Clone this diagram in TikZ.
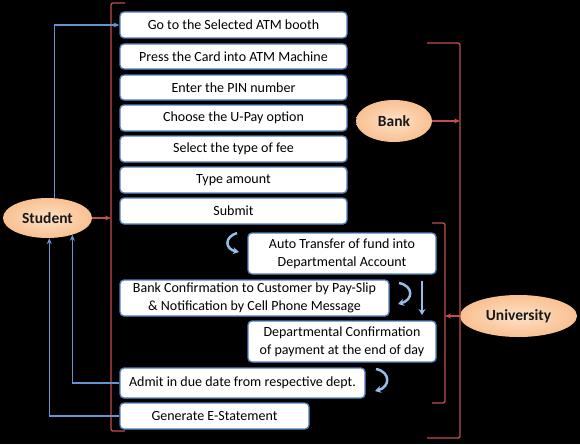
\documentclass[tikz,border=0pt]{standalone}
\usepackage{fontspec}
\setmainfont{Carlito}
\usetikzlibrary{shapes.geometric,arrows.meta}
\definecolor{boxblue}{RGB}{79,129,189}
\definecolor{linkblue}{RGB}{100,148,210}
\definecolor{curvblue}{RGB}{150,190,230}
\definecolor{bracketred}{RGB}{192,80,77}
\definecolor{peachin}{RGB}{253,226,200}
\definecolor{peachout}{RGB}{249,192,145}
\tikzset{
  stepbox/.style={draw=boxblue, line width=1.3pt, fill=white, rounded corners=4pt,
    font=\fontsize{14}{18}\selectfont, align=center, inner sep=0pt},
  actor/.style={ellipse, draw=none, inner color=peachin, outer color=peachout,
    text=black!90, font=\fontsize{15.5}{18}\selectfont\bfseries, inner sep=0pt},
  bracket/.style={draw=bracketred, line width=1.3pt, rounded corners=2pt},
  redarrow/.style={draw=bracketred, line width=1.3pt, -{Stealth[length=6pt,width=5pt]}},
  bluearrow/.style={draw=linkblue, line width=1.4pt, -{Stealth[length=6pt,width=5pt]}},
  curvarrow/.style={draw=curvblue, line width=2.5pt, -{Stealth[length=6pt,width=7pt]}}
}
\begin{document}
\begin{tikzpicture}[x=1pt,y=-1pt]
\fill[black] (0,0) rectangle (580,444);
\useasboundingbox (0,0) rectangle (580,444);

% steps
\node[stepbox, minimum width=227pt, minimum height=26pt] (b1) at (233.5,25) {Go to the Selected ATM booth};
\node[stepbox, minimum width=227pt, minimum height=25pt] (b2) at (233.5,56.5) {Press the Card into ATM Machine};
\node[stepbox, minimum width=227pt, minimum height=25pt] (b3) at (233.5,87.5) {Enter the PIN number};
\node[stepbox, minimum width=227pt, minimum height=26pt] (b4) at (233.5,118) {Choose the U-Pay option};
\node[stepbox, minimum width=227pt, minimum height=26pt] (b5) at (233.5,149) {Select the type of fee};
\node[stepbox, minimum width=227pt, minimum height=26pt] (b6) at (233.5,180) {Type amount};
\node[stepbox, minimum width=227pt, minimum height=26pt] (b7) at (233.5,211) {Submit};
\node[stepbox, minimum width=188pt, minimum height=41pt] (b8) at (342,253.5) {Auto Transfer of fund into\\Departmental Account};
\node[stepbox, minimum width=269pt, minimum height=36pt] (b9) at (254.5,298) {Bank Confirmation to Customer by Pay-Slip\\\& Notification by Cell Phone Message};
\node[stepbox, minimum width=188pt, minimum height=41pt] (b10) at (342,341.5) {Departmental Confirmation\\of payment at the end of day};
\node[stepbox, minimum width=245pt, minimum height=30pt] (b11) at (242.5,383) {Admit in due date from respective dept.};
\node[stepbox, minimum width=189pt, minimum height=26pt] (b12) at (214.5,416) {Generate E-Statement};

% actors
\node[actor, minimum width=89pt, minimum height=40pt] (student) at (47.5,218) {Student};
\node[actor, minimum width=76pt, minimum height=42pt] (bank) at (394,121) {Bank};
\node[actor, minimum width=117pt, minimum height=42pt] (univ) at (518.5,316) {University};

% brackets
\coordinate (lbt) at (111,3);
\coordinate (lbb) at (111,431);
\draw[bracket] (125,3) -- (lbt) -- (lbb) -- (125,431);
\coordinate (rbt) at (460,43);
\coordinate (rbb) at (460,438);
\draw[bracket] (427,43) -- (rbt) -- (rbb) -- (427,438);
\coordinate (sbt) at (445,223);
\coordinate (sbb) at (445,403);
\draw[bracket] (432,223) -- (sbt) -- (sbb) -- (432,403);

\coordinate (lbs) at (111,218);
\coordinate (rbs) at (460,121);
\coordinate (sbs) at (445,316);
\draw[redarrow] (student.east) -- (lbs);
\draw[redarrow] (bank.east) -- (rbs);
\draw[redarrow] (univ.west) -- (sbs);

% blue links
\draw[bluearrow] (student.70) |- (b1.west);
\draw[bluearrow] (b11.west) -| (student.-34);
\draw[bluearrow] (b12.west) -| (student.-85);

% curved flow arrows
\draw[curvarrow] (237,233) .. controls (224,237) and (225,249) .. (239,252);
\draw[curvarrow] (399,283) .. controls (414,286) and (413,300) .. (398,304);
\draw[curvarrow] (422,281) -- (422,315);
\draw[curvarrow] (376,369) .. controls (391,372) and (390,387) .. (375,391);
\end{tikzpicture}
\end{document}
